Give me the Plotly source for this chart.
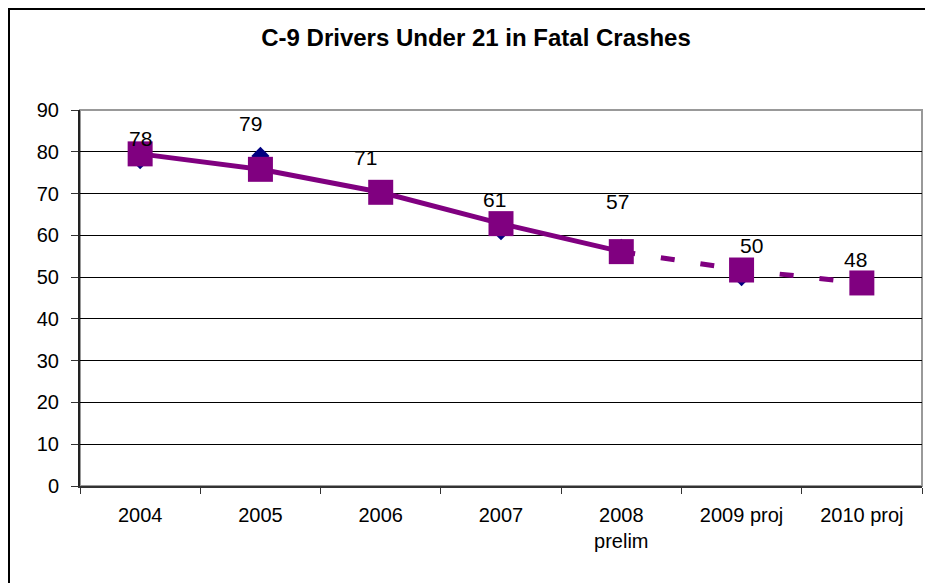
import plotly.graph_objects as go

categories = ["2004", "2005", "2006", "2007", "2008<br>prelim", "2009 proj", "2010 proj"]
driver_counts = [78, 79, 71, 61, 57, 50, 48]
trend_values = [79.5, 75.8, 70.3, 62.8, 56.1, 51.7, 48.6]
label_xshift = [0, -10, -15, -7, -4, 10, -6]
label_yshift = [22, 32, 32, 32, 46, 32, 26]
y_ticks = [0, 10, 20, 30, 40, 50, 60, 70, 80, 90]

PURPLE = "#800080"
NAVY = "#000080"
FONT = "Liberation Sans, Arial, sans-serif"

# page body has an 8px margin; size the figure so it lands where the reference is
W, H = 925, 575
L, R, T, B = 72, 11, 102, 97
PW, PH = W - L - R, H - T - B

fig = go.Figure()

fig.add_trace(go.Scatter(
    x=categories, y=driver_counts, mode="markers",
    marker=dict(symbol="diamond", size=14, color=NAVY),
    hoverinfo="x+y", showlegend=False))

fig.add_trace(go.Scatter(
    x=categories[:5], y=trend_values[:5], mode="lines",
    line=dict(color=PURPLE, width=5), showlegend=False, hoverinfo="skip"))
fig.add_trace(go.Scatter(
    x=categories[4:], y=trend_values[4:], mode="lines",
    line=dict(color=PURPLE, width=5, dash="14px,26px"), showlegend=False, hoverinfo="skip"))
fig.add_trace(go.Scatter(
    x=categories, y=trend_values, mode="markers",
    marker=dict(symbol="square", size=25, color=PURPLE),
    showlegend=False, hoverinfo="x+y"))

annotations = []
for i, v in enumerate(driver_counts):
    annotations.append(dict(
        x=i, y=v, xref="x", yref="y", text=str(v), showarrow=False,
        xshift=label_xshift[i], yshift=label_yshift[i],
        font=dict(family=FONT, size=21, color="black")))

fig.update_layout(
    width=W, height=H,
    margin=dict(l=L, r=R, t=T, b=B, autoexpand=False),
    paper_bgcolor="white", plot_bgcolor="white",
    title=dict(text="<b>C-9 Drivers Under 21 in Fatal Crashes</b>",
               x=(476 - 8) / W, xref="container", xanchor="center",
               y=1 - (38 - 8) / H, yref="container", yanchor="middle",
               font=dict(family=FONT, size=24, color="black")),
    font=dict(family=FONT, color="black"),
    annotations=annotations,
    shapes=[
        dict(type="rect", xref="paper", yref="paper", x0=0, x1=1, y0=0, y1=1,
             line=dict(color="#999999", width=2), layer="below"),
        dict(type="rect", xref="paper", yref="paper",
             x0=(1 - L) / PW, x1=1.1, y0=-0.4, y1=(H - B - 1) / PH,
             line=dict(color="black", width=2), layer="below"),
    ],
)

fig.update_xaxes(
    type="category", tickson="boundaries", ticks="outside", ticklen=6,
    tickcolor="#333333", showline=True, linecolor="#333333", linewidth=2,
    showgrid=False, tickfont=dict(family=FONT, size=20, color="black"),
    ticklabelstandoff=10, range=[-0.5, 6.5])

fig.update_yaxes(
    range=[0, 90], tickvals=y_ticks, ticks="outside", ticklen=7,
    tickcolor="#333333", showline=True, linecolor="#222222", linewidth=2,
    showgrid=True, gridcolor="#000000", gridwidth=1, zeroline=False,
    tickfont=dict(family=FONT, size=20, color="black"), ticklabelstandoff=8)

fig.write_html("out.html")
